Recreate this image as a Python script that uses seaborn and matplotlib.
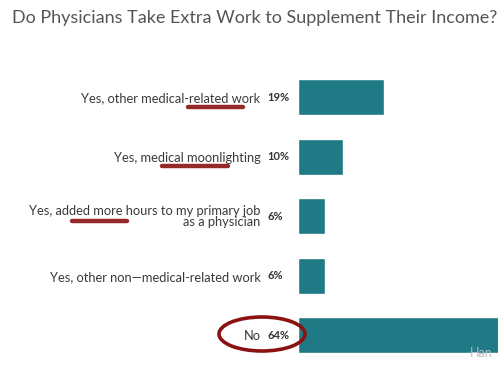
import matplotlib.pyplot as plt
import seaborn as sns
import pandas as pd
from matplotlib.patches import Ellipse
from matplotlib.lines import Line2D
from matplotlib.transforms import blended_transform_factory

categories = [
    "Yes, other medical-related work",
    "Yes, medical moonlighting",
    "Yes, added more hours to my primary job\nas a physician",
    "Yes, other non\u2014medical-related work",
    "No",
]
values = [19, 10, 6, 6, 64]
pct_labels = ["19%", "10%", "6%", "6%", "64%"]

df = pd.DataFrame({"answer": categories, "share": values})

sns.set_style("white")
plt.rcParams["font.family"] = ["Lato", "DejaVu Sans"]

W, H = 498, 371
fig = plt.figure(figsize=(W / 100, H / 100), dpi=100)
# axes: bars start at x=298px, five rows from y=67 to y=365
ax = fig.add_axes([298 / W, 1 - 365 / H, 1 - 298 / W, 297.5 / H])

sns.barplot(data=df, x="share", y="answer", orient="h", color="#1f7a85",
            saturation=1, width=0.6, ax=ax)
ax.set_xlim(0, 44)
ax.set_ylim(4.5, -0.5)
ax.set_xlabel("")
ax.set_ylabel("")
ax.set_xticks([])
ax.tick_params(axis="y", length=0, pad=27, labelsize=9.3, labelcolor="#3a3a3a")
for lab in ax.get_yticklabels():
    lab.set_multialignment("right")
    lab.set_linespacing(0.9)
sns.despine(ax=ax, left=True, bottom=True, top=True, right=True)

# percent labels, left of the bars
trans = blended_transform_factory(fig.transFigure, ax.transData)
for i, t in enumerate(pct_labels):
    ax.text(267 / W, i, t, transform=trans, ha="left", va="center",
            fontsize=8, fontweight="bold", color="#333333")

fig.text(12 / W, 1 - 18 / H, "Do Physicians Take Extra Work to Supplement Their Income?",
         ha="left", va="center", fontsize=13, color="#555555")

# hand-drawn red marks
red = "#8a1212"
for x0, x1, y in [(188, 243, 107), (162, 228, 166), (72, 127, 221)]:
    fig.add_artist(Line2D([x0 / W, x1 / W], [1 - y / H, 1 - y / H],
                          transform=fig.transFigure, color=red, lw=3.2,
                          solid_capstyle="round", alpha=0.9))
fig.add_artist(Ellipse((262 / W, 1 - 334 / H), 86 / W, 34 / H,
                       transform=fig.transFigure, fill=False, ec=red, lw=2.6))

fig.text(470 / W, 1 - 353 / H, "Han", fontsize=9, color="#bbbbbb",
         ha="left", va="center")

fig.savefig("out.png", dpi=100)
